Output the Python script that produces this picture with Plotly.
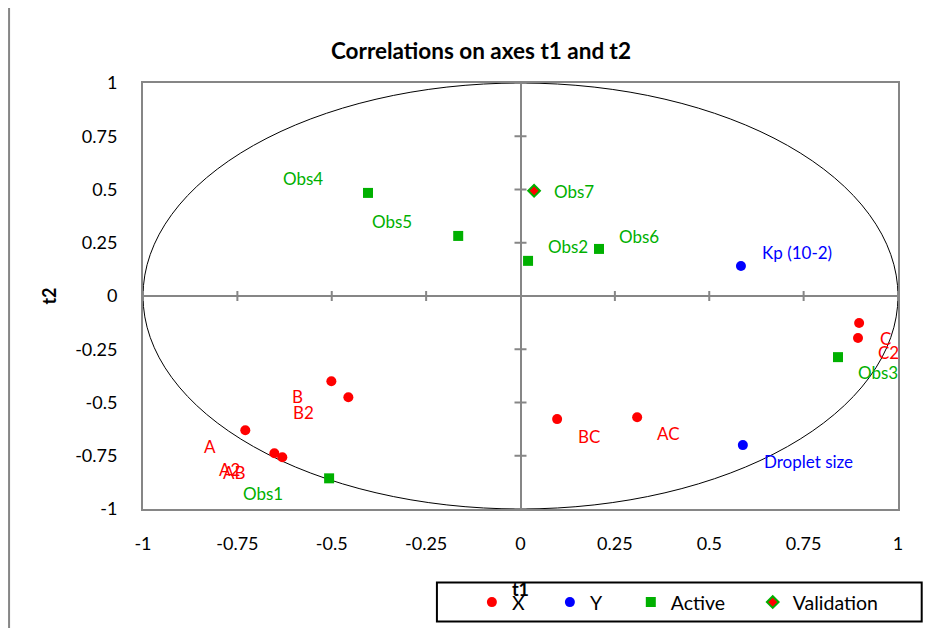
import plotly.graph_objects as go

FONT = "Lato"

# ---- data ----
x_names = ["A", "B", "C", "AB", "AC", "BC", "A2", "B2", "C2"]
x_t1 = [-0.729, -0.501, 0.897, -0.631, 0.309, 0.097, -0.652, -0.456, 0.894]
x_t2 = [-0.630, -0.400, -0.127, -0.757, -0.569, -0.578, -0.738, -0.475, -0.197]

y_names = ["Kp (10-2)", "Droplet size"]
y_t1 = [0.584, 0.589]
y_t2 = [0.141, -0.700]

act_names = ["Obs1", "Obs2", "Obs3", "Obs4", "Obs5", "Obs6"]
act_t1 = [-0.507, 0.020, 0.841, -0.404, -0.165, 0.208]
act_t2 = [-0.856, 0.165, -0.287, 0.484, 0.282, 0.221]

val_names = ["Obs7"]
val_t1 = [0.036]
val_t2 = [0.494]

tick_vals = [-1, -0.75, -0.5, -0.25, 0, 0.25, 0.5, 0.75, 1]
tick_text = ["-1", "-0.75", "-0.5", "-0.25", "0", "0.25", "0.5", "0.75", "1"]

# label placement: (anchor, xshift px, yshift px)
label_pos = {
    "A": ("right", -27, -16), "B": ("right", -26, -15), "C": ("left", 19, -15),
    "AB": ("right", -34, -15), "AC": ("left", 18, -16), "BC": ("left", 19, -17),
    "A2": ("right", -32, -16), "B2": ("right", -32, -15), "C2": ("left", 18, -15),
    "Kp (10-2)": ("left", 19, 13), "Droplet size": ("left", 19, -16),
    "Obs1": ("right", -44, -15), "Obs2": ("left", 18, 14), "Obs3": ("left", 18, -15),
    "Obs4": ("right", -43, 14), "Obs5": ("right", -44, 14), "Obs6": ("left", 18, 12),
    "Obs7": ("left", 18, -1),
}

RED = "#FF0000"
BLUE = "#0000FF"
GREEN = "#00B000"
GRAY = "#868686"

fig = go.Figure()

fig.add_trace(go.Scatter(x=x_t1, y=x_t2, mode="markers", name="X",
                         marker=dict(symbol="circle", size=10, color=RED),
                         cliponaxis=False, legend="legend"))
fig.add_trace(go.Scatter(x=y_t1, y=y_t2, mode="markers", name="Y",
                         marker=dict(symbol="circle", size=10, color=BLUE),
                         cliponaxis=False, legend="legend"))
fig.add_trace(go.Scatter(x=act_t1, y=act_t2, mode="markers", name="Active",
                         marker=dict(symbol="square", size=10, color=GREEN),
                         cliponaxis=False, legend="legend2"))
fig.add_trace(go.Scatter(x=val_t1, y=val_t2, mode="markers", name="Validation",
                         marker=dict(symbol="diamond", size=9, color=RED,
                                     line=dict(color=GREEN, width=2)),
                         cliponaxis=False, legend="legend3"))

annotations = []
for names, xs, ys, col in [(x_names, x_t1, x_t2, RED), (y_names, y_t1, y_t2, BLUE),
                           (act_names, act_t1, act_t2, GREEN), (val_names, val_t1, val_t2, GREEN)]:
    for n, xv, yv in zip(names, xs, ys):
        anc, xs_, ys_ = label_pos[n]
        annotations.append(dict(x=xv, y=yv, xref="x", yref="y", text=n, showarrow=False,
                                xanchor=anc, yanchor="middle", xshift=xs_, yshift=ys_,
                                font=dict(family=FONT, size=17, color=col)))

shapes = []
# correlation circle
shapes.append(dict(type="circle", xref="x", yref="y", x0=-1, x1=1, y0=-1, y1=1,
                   line=dict(color="black", width=1), layer="between"))
# tick crosses on the zero axes
for t in tick_vals:
    if t == 0:
        continue
    shapes.append(dict(type="line", xref="x", yref="y", ysizemode="pixel", yanchor=0,
                       x0=t, x1=t, y0=-5, y1=5, line=dict(color=GRAY, width=2), layer="between"))
    shapes.append(dict(type="line", xref="x", yref="y", xsizemode="pixel", xanchor=0,
                       y0=t, y1=t, x0=-6, x1=6, line=dict(color=GRAY, width=2), layer="between"))
# outer chart frame
shapes.append(dict(type="rect", xref="paper", yref="paper", x0=-0.1774, x1=1.08,
                   y0=-0.35, y1=1.6377, line=dict(color=GRAY, width=2), layer="below"))
# legend box
shapes.append(dict(type="rect", xref="paper", yref="paper", x0=0.3893, x1=1.0314,
                   y0=-0.2640, y1=-0.1723, line=dict(color="black", width=2),
                   fillcolor="rgba(0,0,0,0)", layer="below"))

axis_common = dict(range=[-1, 1], tickvals=tick_vals, ticktext=tick_text, showgrid=False,
                   zeroline=True, zerolinecolor=GRAY, zerolinewidth=2,
                   showline=True, mirror=True, linecolor=GRAY, linewidth=2,
                   ticks="", tickfont=dict(family=FONT, size=18, color="black"),
                   fixedrange=True, automargin=False)

legend_common = dict(orientation="h", xanchor="left", y=-0.2193, yanchor="middle",
                     bgcolor="rgba(0,0,0,0)", font=dict(family=FONT, size=19.5, color="black"),
                     itemclick=False, itemdoubleclick=False)

fig.update_layout(
    width=937, height=620,
    margin=dict(l=135, r=47, t=75, b=119, autoexpand=False),
    paper_bgcolor="white", plot_bgcolor="white",
    font=dict(family=FONT, color="black"),
    title=dict(text="<b>Correlations on axes t1 and t2</b>", x=0.5048, xref="container",
               xanchor="center", y=0.9306, yref="container", yanchor="middle",
               font=dict(family=FONT, size=22.5, color="black")),
    xaxis=dict(**axis_common, ticklabelstandoff=17,
               title=dict(text="<b>t1</b>", standoff=31, font=dict(family=FONT, size=18))),
    yaxis=dict(**axis_common, ticklabelstandoff=20,
               title=dict(text="<b>t2</b>", standoff=14, font=dict(family=FONT, size=18))),
    showlegend=True,
    legend=dict(**legend_common, x=0.4356, entrywidth=33, entrywidthmode="pixels"),
    legend2=dict(**legend_common, x=0.6461),
    legend3=dict(**legend_common, x=0.8076),
    annotations=annotations,
    shapes=shapes,
)

fig.write_html("out.html")
